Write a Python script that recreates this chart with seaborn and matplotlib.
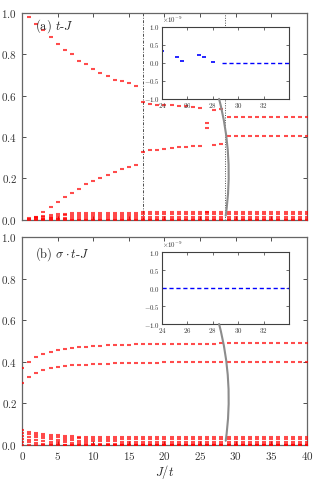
import numpy as np
import pandas as pd
import matplotlib
matplotlib.use('Agg')
import matplotlib.pyplot as plt
import seaborn as sns
from matplotlib.patches import ConnectionPatch

nan = np.nan

# ---- panel (a): t-J, J/t = 1..40
J_a = list(range(1, 41))
upper_a = [0.979, 0.945, 0.918, 0.883, 0.849, 0.823, 0.800, 0.770, 0.755, 0.729,
           0.712, 0.696, 0.676, 0.671, 0.660, 0.647, 0.571, 0.559, 0.556, 0.554,
           0.553, 0.551, 0.550, 0.546, 0.541, nan, 0.532, 0.535, 0.496, 0.496,
           0.496, 0.496, 0.496, 0.496, 0.496, 0.496, 0.496, 0.496, 0.496, 0.496]
lower_a = [nan, 0.015, 0.037, 0.061, 0.085, 0.108, 0.132, 0.151, 0.174, 0.188,
           0.204, 0.219, 0.230, 0.244, 0.257, 0.264, 0.327, 0.340, 0.340, 0.343,
           0.347, 0.351, 0.354, 0.357, 0.359, nan, 0.364, 0.366, 0.406, 0.406,
           0.406, 0.406, 0.406, 0.406, 0.406, 0.406, 0.406, 0.406, 0.406, 0.406]
c1_a = [0.008, 0.015, 0.020, 0.024, 0.027, 0.029, 0.031, 0.032, 0.032, 0.032,
        0.033, 0.033, 0.033, 0.033, 0.033, 0.033, 0.037, 0.037, 0.037, 0.037,
        0.037, 0.037, 0.037, 0.037, 0.037, 0.037, 0.037, 0.037, 0.037, 0.037,
        0.037, 0.037, 0.037, 0.037, 0.037, 0.037, 0.037, 0.037, 0.037, 0.037]
c2_a = [nan, 0.008, 0.012, 0.016, 0.019, 0.021, 0.022, 0.023, 0.023, 0.023,
        0.023, 0.023, 0.023, 0.023, 0.023, 0.023, 0.028, 0.028, 0.028, 0.028,
        0.028, 0.028, 0.028, 0.028, 0.028, 0.028, 0.028, 0.028, 0.028, 0.028,
        0.028, 0.028, 0.028, 0.028, 0.028, 0.028, 0.028, 0.028, 0.028, 0.028]
c3_a = [nan, nan, 0.005, 0.008, 0.010, 0.011, 0.012, 0.013, 0.013, 0.013,
        0.013, 0.013, 0.013, 0.013, 0.013, 0.013, 0.016, 0.016, 0.016, 0.016,
        0.016, 0.016, 0.016, 0.016, 0.016, 0.016, 0.016, 0.016, 0.016, 0.016,
        0.016, 0.016, 0.016, 0.016, 0.016, 0.016, 0.016, 0.016, 0.016, 0.016]
c4_a = [0.002, 0.003, 0.003, 0.003, 0.003, 0.003, 0.003, 0.003, 0.003, 0.003,
        0.003, 0.003, 0.003, 0.003, 0.003, 0.003, 0.006, 0.006, 0.006, 0.006,
        0.006, 0.006, 0.006, 0.006, 0.006, 0.006, 0.006, 0.006, 0.006, 0.006,
        0.006, 0.006, 0.006, 0.006, 0.006, 0.006, 0.006, 0.006, 0.006, 0.006]
c0_a = [0.0] * 40
extra_J_a = [26, 26, 26]
extra_a = [0.470, 0.444, 0.040]

# ---- panel (b): sigma.t-J, J/t = 0..40
J_b = list(range(0, 41))
upper_b = [0.369, 0.401, 0.425, 0.440, 0.449, 0.457, 0.464, 0.467, 0.470, 0.473,
           0.477, 0.478, 0.479, 0.480, 0.482, 0.483, 0.484, 0.485, 0.485, 0.486,
           0.486, 0.487, 0.487, 0.487, 0.488, 0.488, 0.488, 0.488, 0.489, 0.489,
           0.489, 0.489, 0.489, 0.490, 0.490, 0.490, 0.490, 0.490, 0.490, 0.490, 0.490]
lower_b = [0.297, 0.329, 0.348, 0.361, 0.369, 0.376, 0.380, 0.383, 0.385, 0.387,
           0.388, 0.390, 0.391, 0.392, 0.393, 0.394, 0.395, 0.395, 0.396, 0.396,
           0.397, 0.397, 0.397, 0.398, 0.398, 0.398, 0.398, 0.399, 0.399, 0.399,
           0.399, 0.399, 0.400, 0.400, 0.400, 0.400, 0.400, 0.400, 0.400, 0.400, 0.400]
c1_b = [0.072, 0.064, 0.058, 0.053, 0.049, 0.046, 0.043, 0.041, 0.040, 0.039,
        0.038, 0.038, 0.037, 0.037, 0.037, 0.037, 0.037, 0.037, 0.037, 0.037,
        0.037, 0.037, 0.037, 0.037, 0.037, 0.037, 0.037, 0.037, 0.037, 0.037,
        0.037, 0.037, 0.037, 0.037, 0.037, 0.037, 0.037, 0.037, 0.037, 0.037, 0.037]
c2_b = [0.058, 0.052, 0.047, 0.043, 0.040, 0.037, 0.035, 0.033, 0.032, 0.031,
        0.030, 0.029, 0.029, 0.028, 0.028, 0.028, 0.028, 0.028, 0.028, 0.028,
        0.028, 0.028, 0.028, 0.028, 0.028, 0.028, 0.028, 0.028, 0.028, 0.028,
        0.028, 0.028, 0.028, 0.028, 0.028, 0.028, 0.028, 0.028, 0.028, 0.028, 0.028]
c3_b = [0.045, 0.040, 0.036, 0.032, 0.029, 0.026, 0.024, 0.022, 0.021, 0.020,
        0.019, 0.018, 0.017, 0.017, 0.016, 0.016, 0.016, 0.016, 0.016, 0.016,
        0.016, 0.016, 0.016, 0.016, 0.016, 0.016, 0.016, 0.016, 0.016, 0.016,
        0.016, 0.016, 0.016, 0.016, 0.016, 0.016, 0.016, 0.016, 0.016, 0.016, 0.016]
c4_b = [0.030, 0.026, 0.022, 0.019, 0.016, 0.014, 0.012, 0.010, 0.009, 0.008,
        0.007, 0.007, 0.006, 0.006, 0.006, 0.006, 0.006, 0.006, 0.006, 0.006,
        0.006, 0.006, 0.006, 0.006, 0.006, 0.006, 0.006, 0.006, 0.006, 0.006,
        0.006, 0.006, 0.006, 0.006, 0.006, 0.006, 0.006, 0.006, 0.006, 0.006, 0.006]
c5_b = [0.016, 0.012, 0.009, 0.006, 0.004, 0.003, 0.002, 0.002, 0.001, 0.001,
        0.001, 0.001, 0.001, 0.001, 0.001, 0.001, 0.001, 0.001, 0.001, 0.001,
        0.001, 0.001, 0.001, 0.001, 0.001, 0.001, 0.001, 0.001, 0.001, 0.001,
        0.001, 0.001, 0.001, 0.001, 0.001, 0.001, 0.001, 0.001, 0.001, 0.001, 0.001]
c0_b = [0.0] * 41

# ---- insets (units of 1e-9)
ins_a_J = [24.0, 25.2, 25.6, 26.9, 27.3, 28.0]
ins_a_val = [0.33, 0.17, 0.06, 0.21, 0.15, 0.03]
ins_a_line_J = [28.7, 34.0]
ins_a_line_val = [0.0, 0.0]
ins_b_line_J = [24.0, 34.0]
ins_b_line_val = [0.0, 0.0]


def long_form(J, series):
    frames = [pd.DataFrame({'J': J, 'gap': s}) for s in series]
    return pd.concat(frames).dropna()


df_a = pd.concat([long_form(J_a, [upper_a, lower_a, c1_a, c2_a, c3_a, c4_a, c0_a]),
                  pd.DataFrame({'J': extra_J_a, 'gap': extra_a})])
df_b = long_form(J_b, [upper_b, lower_b, c1_b, c2_b, c3_b, c4_b, c5_b, c0_b])

sns.set_style('ticks')
plt.rcParams['font.family'] = 'serif'
plt.rcParams['font.serif'] = ['cmr10']
plt.rcParams['mathtext.fontset'] = 'cm'
plt.rcParams['axes.formatter.use_mathtext'] = True
plt.rcParams['axes.unicode_minus'] = False

fig = plt.figure(figsize=(3.2, 4.8), dpi=100)
ax_a = fig.add_axes([0.069, 0.542, 0.890, 0.431])
ax_b = fig.add_axes([0.069, 0.073, 0.890, 0.433])
in_a = fig.add_axes([0.506, 0.794, 0.397, 0.150])
in_b = fig.add_axes([0.506, 0.325, 0.397, 0.150])

for ax, df in [(ax_a, df_a), (ax_b, df_b)]:
    sns.scatterplot(data=df, x='J', y='gap', marker='_', s=9, linewidth=1.5,
                    color='red', alpha=0.7, ax=ax, legend=False, zorder=3)
    ax.set_xlim(0, 40)
    ax.set_ylim(0, 1.0)
    ax.set_xticks(range(0, 41, 5))
    ax.set_yticks([0.0, 0.2, 0.4, 0.6, 0.8, 1.0])
    ax.tick_params(direction='in', top=True, right=True, length=3, width=0.6,
                   labelsize=8, colors='0.2')
    ax.set_ylabel('')
    for sp in ax.spines.values():
        sp.set_color('0.4')
        sp.set_linewidth(0.9)

ax_a.set_xlabel('')
ax_a.tick_params(labelbottom=False)
ax_b.set_xlabel('$J/t$', fontsize=9, labelpad=1)

ax_a.axvline(17, color='0.3', lw=0.7, ls=(0, (3, 1.5, 1, 1.5)), zorder=1)
ax_a.axvline(28.5, color='0.3', lw=0.7, ls=(0, (1, 1.5)), zorder=1)

ax_a.text(0.045, 0.935, '(a) $t$-$J$', transform=ax_a.transAxes, fontsize=9,
          va='center', ha='left')
ax_b.text(0.045, 0.92, r'(b) $\sigma\cdot t$-$J$', transform=ax_b.transAxes,
          fontsize=9, va='center', ha='left')

# insets
sns.scatterplot(x=ins_a_J, y=np.array(ins_a_val) * 1e-9, marker='_', s=9,
                linewidth=1.2, color='blue', ax=in_a, legend=False)
sns.lineplot(x=ins_a_line_J, y=np.array(ins_a_line_val) * 1e-9, color='blue',
             lw=1.0, ls=(0, (3, 2)), ax=in_a)
sns.lineplot(x=ins_b_line_J, y=np.array(ins_b_line_val) * 1e-9, color='blue',
             lw=1.0, ls=(0, (3, 2)), ax=in_b)

for ax in (in_a, in_b):
    ax.set_xlim(24, 34)
    ax.set_ylim(-1e-9, 1e-9)
    ax.set_xticks([24, 26, 28, 30, 32])
    ax.set_yticks([-1e-9, -0.5e-9, 0, 0.5e-9, 1e-9])
    ax.tick_params(direction='in', top=True, right=True, length=2, width=0.5,
                   labelsize=5, pad=1.5, colors='0.2')
    ax.yaxis.get_offset_text().set_fontsize(5)
    for sp in ax.spines.values():
        sp.set_color('0.25')
        sp.set_linewidth(0.8)

# grey connectors from inset to the degenerate levels
for ax, ins in [(ax_a, in_a), (ax_b, in_b)]:
    con = ConnectionPatch(xyA=(28.5, -1e-9), coordsA=ins.transData,
                          xyB=(28.6, 0.02), coordsB=ax.transData,
                          connectionstyle='arc3,rad=-0.1', color='0.55', lw=1.5,
                          zorder=5)
    fig.add_artist(con)

fig.savefig('out.png', dpi=100)
